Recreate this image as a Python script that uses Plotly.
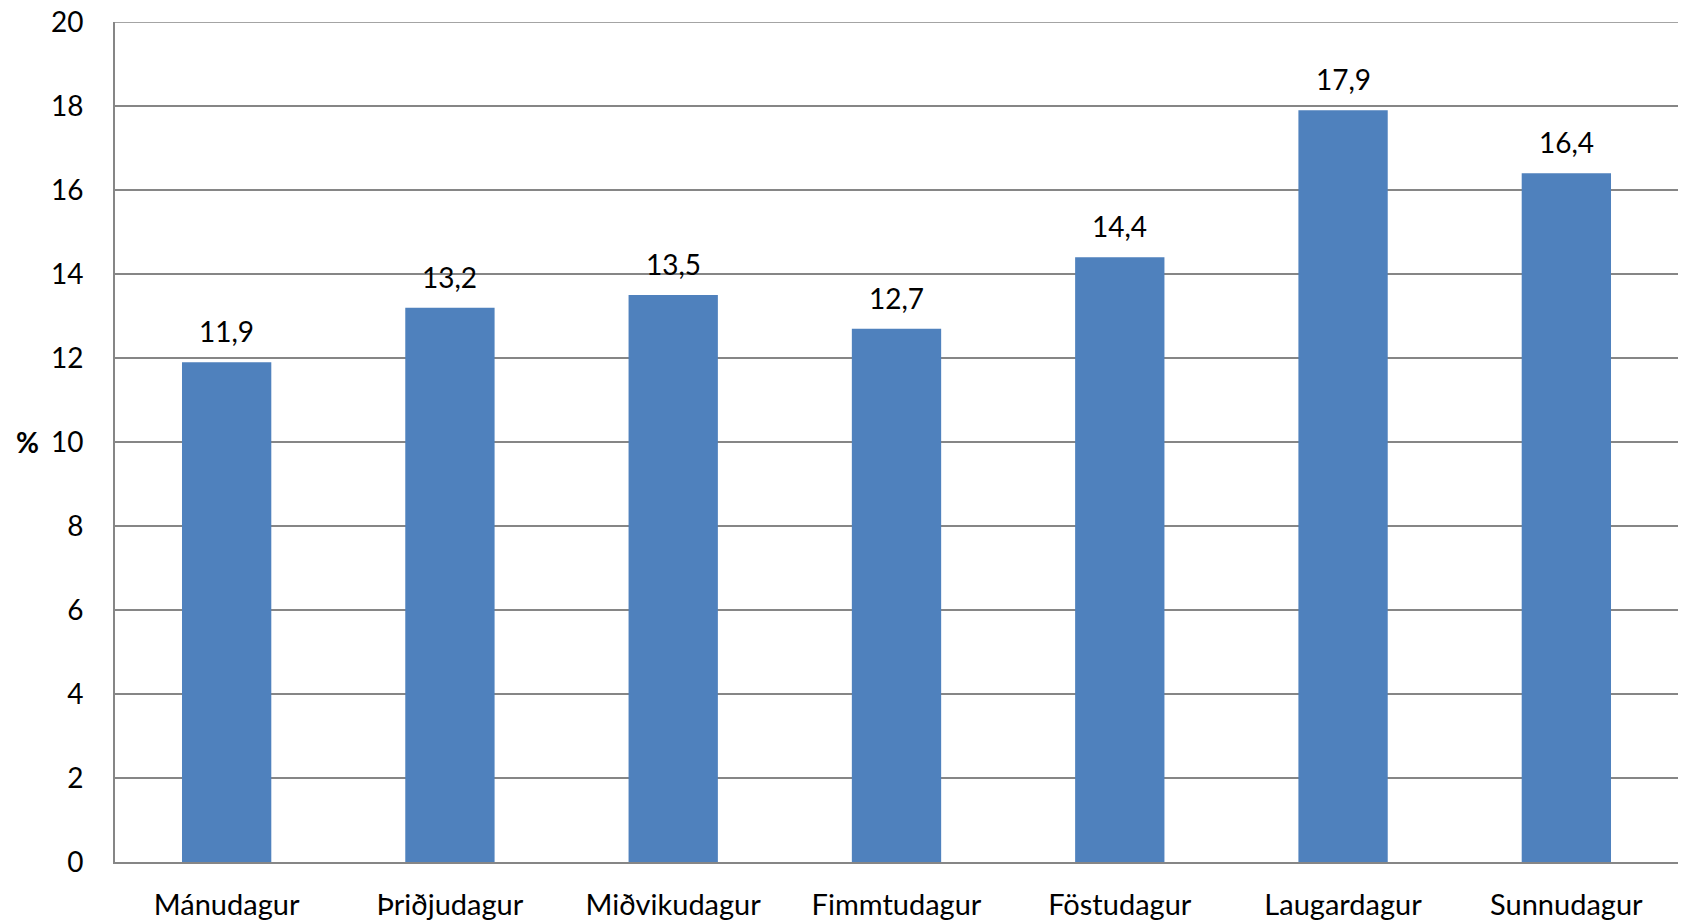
import plotly.graph_objects as go

days = ["Mánudagur", "Þriðjudagur", "Miðvikudagur", "Fimmtudagur", "Föstudagur", "Laugardagur", "Sunnudagur"]
values = [11.9, 13.2, 13.5, 12.7, 14.4, 17.9, 16.4]
y_ticks = [0, 2, 4, 6, 8, 10, 12, 14, 16, 18, 20]
labels = [f"{v:.1f}".replace(".", ",") for v in values]

FONT = "Lato"
FS = 28
GRID = "#868686"
fig = go.Figure()
fig.add_trace(go.Bar(x=days, y=values, marker=dict(color="#4F81BD", line=dict(width=0)),
                     width=0.4, hoverinfo="skip"))

for d, v, t in zip(days, values, labels):
    fig.add_annotation(x=d, y=v, text=t, showarrow=False, yanchor="bottom", yshift=12,
                       font=dict(family=FONT, size=FS, color="black"))

fig.add_annotation(x=-0.056, xref="paper", y=10, yref="y", text="<b>%</b>", showarrow=False,
                   xanchor="center", font=dict(family=FONT, size=FS, color="black"))

# top gridline at the upper end of the range
fig.add_shape(type="line", xref="paper", x0=0, x1=1, yref="y", y0=y_ticks[-1], y1=y_ticks[-1],
              line=dict(color=GRID, width=1.5), layer="below")

fig.update_layout(
    width=1683, height=920,
    margin=dict(l=115, r=5, t=22, b=58),
    paper_bgcolor="white", plot_bgcolor="white",
    showlegend=False,
    font=dict(family=FONT, size=FS, color="black"),
    xaxis=dict(showline=True, linecolor=GRID, linewidth=2, ticks="", showgrid=False,
               automargin=False,
               tickfont=dict(family=FONT, size=29, color="black"), ticklabelstandoff=16),
    yaxis=dict(range=[0, 20.001], tickvals=y_ticks, showline=True, linecolor=GRID, linewidth=2,
               gridcolor=GRID, gridwidth=1.5, ticks="", zeroline=False, automargin=False,
               ticklabeloverflow="allow",
               tickfont=dict(family=FONT, size=FS, color="black"), ticklabelstandoff=24),
)
fig.write_html("out.html", config={"displayModeBar": False},
               post_script="document.body.style.margin='0';document.body.style.overflow='hidden';")
